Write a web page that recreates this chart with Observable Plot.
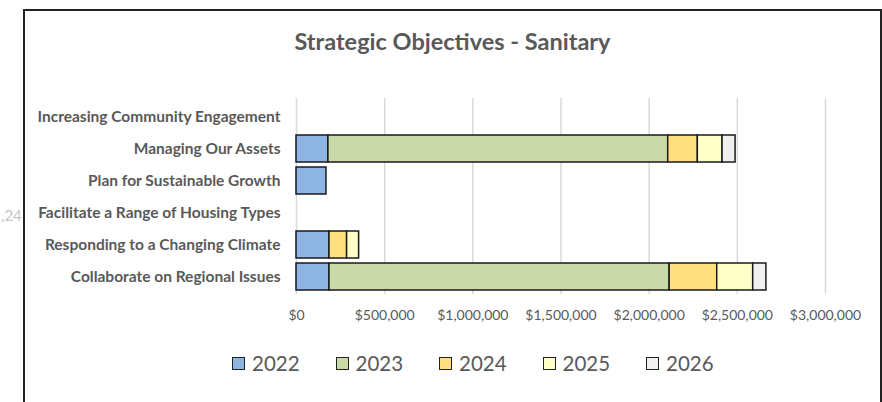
<!DOCTYPE html>
<html>
<head>
<meta charset="utf-8">
<script src="https://cdn.jsdelivr.net/npm/d3@7"></script>
<script src="https://cdn.jsdelivr.net/npm/@observablehq/plot@0.6"></script>
<style>
  html, body { margin: 0; padding: 0; background: #fff; }
  #wrap { position: relative; width: 882px; height: 402px; overflow: hidden; font-family: Lato, "Open Sans", sans-serif; }
  #frame { position: absolute; left: 23px; top: 9px; width: 855px; height: 420px; border-left: 2px solid #222; border-top: 2px solid #222; border-right: 2px solid #222; background: #fff; }
  #stray { position: absolute; left: 1px; top: 206px; font-size: 15px; color: #c4c4c4; }
  #chart { position: absolute; left: 0; top: 0; }
  #title { position: absolute; left: 0; width: 905px; top: 27px; text-align: center; font-size: 23.5px; font-weight: bold; color: #595959; }
  #legend { position: absolute; top: 349px; left: 232px; height: 28px; }
  .item { position: absolute; top: 0; display: flex; align-items: center; height: 28px; }
  .sw { width: 11px; height: 11px; border: 1.3px solid #222; margin-right: 7px; }
  .lab { font-size: 20.5px; color: #595959; }
</style>
</head>
<body>
<div id="wrap">
  <div id="stray">,24</div>
  <div id="frame"></div>
  <div id="chart"></div>
  <div id="title">Strategic Objectives - Sanitary</div>
  <div id="legend"></div>
</div>
<script>
const objectives = [
  "Increasing Community Engagement",
  "Managing Our Assets",
  "Plan for Sustainable Growth",
  "Facilitate a Range of Housing Types",
  "Responding to a Changing Climate",
  "Collaborate on Regional Issues"
];
const years = ["2022", "2023", "2024", "2025", "2026"];
const colors = ["#8eb4e3", "#c9d9a8", "#ffdf80", "#ffffc9", "#f0f0f0"];

const v2022 = [0, 181000, 170000, 0, 187000, 187000];
const v2023 = [0, 1927000, 0, 0, 0, 1929000];
const v2024 = [0, 168000, 0, 0, 100000, 270000];
const v2025 = [0, 140000, 0, 0, 68000, 204000];
const v2026 = [0, 74000, 0, 0, 0, 75000];
const seriesValues = [v2022, v2023, v2024, v2025, v2026];

const xTicks = [0, 500000, 1000000, 1500000, 2000000, 2500000, 3000000];

const rows = [];
years.forEach((yr, i) => {
  objectives.forEach((obj, j) => {
    rows.push({ objective: obj, year: yr, value: seriesValues[i][j] });
  });
});

const chart = Plot.plot({
  width: 882,
  height: 402,
  marginLeft: 296,
  marginRight: 57,
  marginTop: 98,
  marginBottom: 108,
  style: { fontFamily: "Lato, 'Open Sans', sans-serif", color: "#595959", background: "transparent", overflow: "visible" },
  x: { domain: [0, 3000000], label: null },
  y: { domain: objectives, padding: 0.17, paddingOuter: 0.1, label: null },
  color: { domain: years, range: colors },
  marks: [
    Plot.gridX(xTicks, { stroke: "#d9d9d9", strokeOpacity: 1, strokeWidth: 1.5 }),
    Plot.axisX(xTicks, { tickSize: 0, tickPadding: 16, fontSize: 14, fill: "#595959", tickFormat: d => "$" + d3.format(",")(d) }),
    Plot.axisY({ tickSize: 0, tickPadding: 16, fontSize: 15.5, fontWeight: "bold", fill: "#595959" }),
    Plot.barX(rows.filter(d => d.value > 0), { x: "value", y: "objective", fill: "year", stroke: "#1a1a1a", strokeWidth: 1.5 })
  ]
});
document.getElementById("chart").appendChild(chart);

const legend = document.getElementById("legend");
years.forEach((yr, i) => {
  const item = document.createElement("div");
  item.className = "item";
  item.style.left = (i * 103.5) + "px";
  const sw = document.createElement("div");
  sw.className = "sw";
  sw.style.background = colors[i];
  const lab = document.createElement("span");
  lab.className = "lab";
  lab.textContent = yr;
  item.appendChild(sw);
  item.appendChild(lab);
  legend.appendChild(item);
});
</script>
</body>
</html>
